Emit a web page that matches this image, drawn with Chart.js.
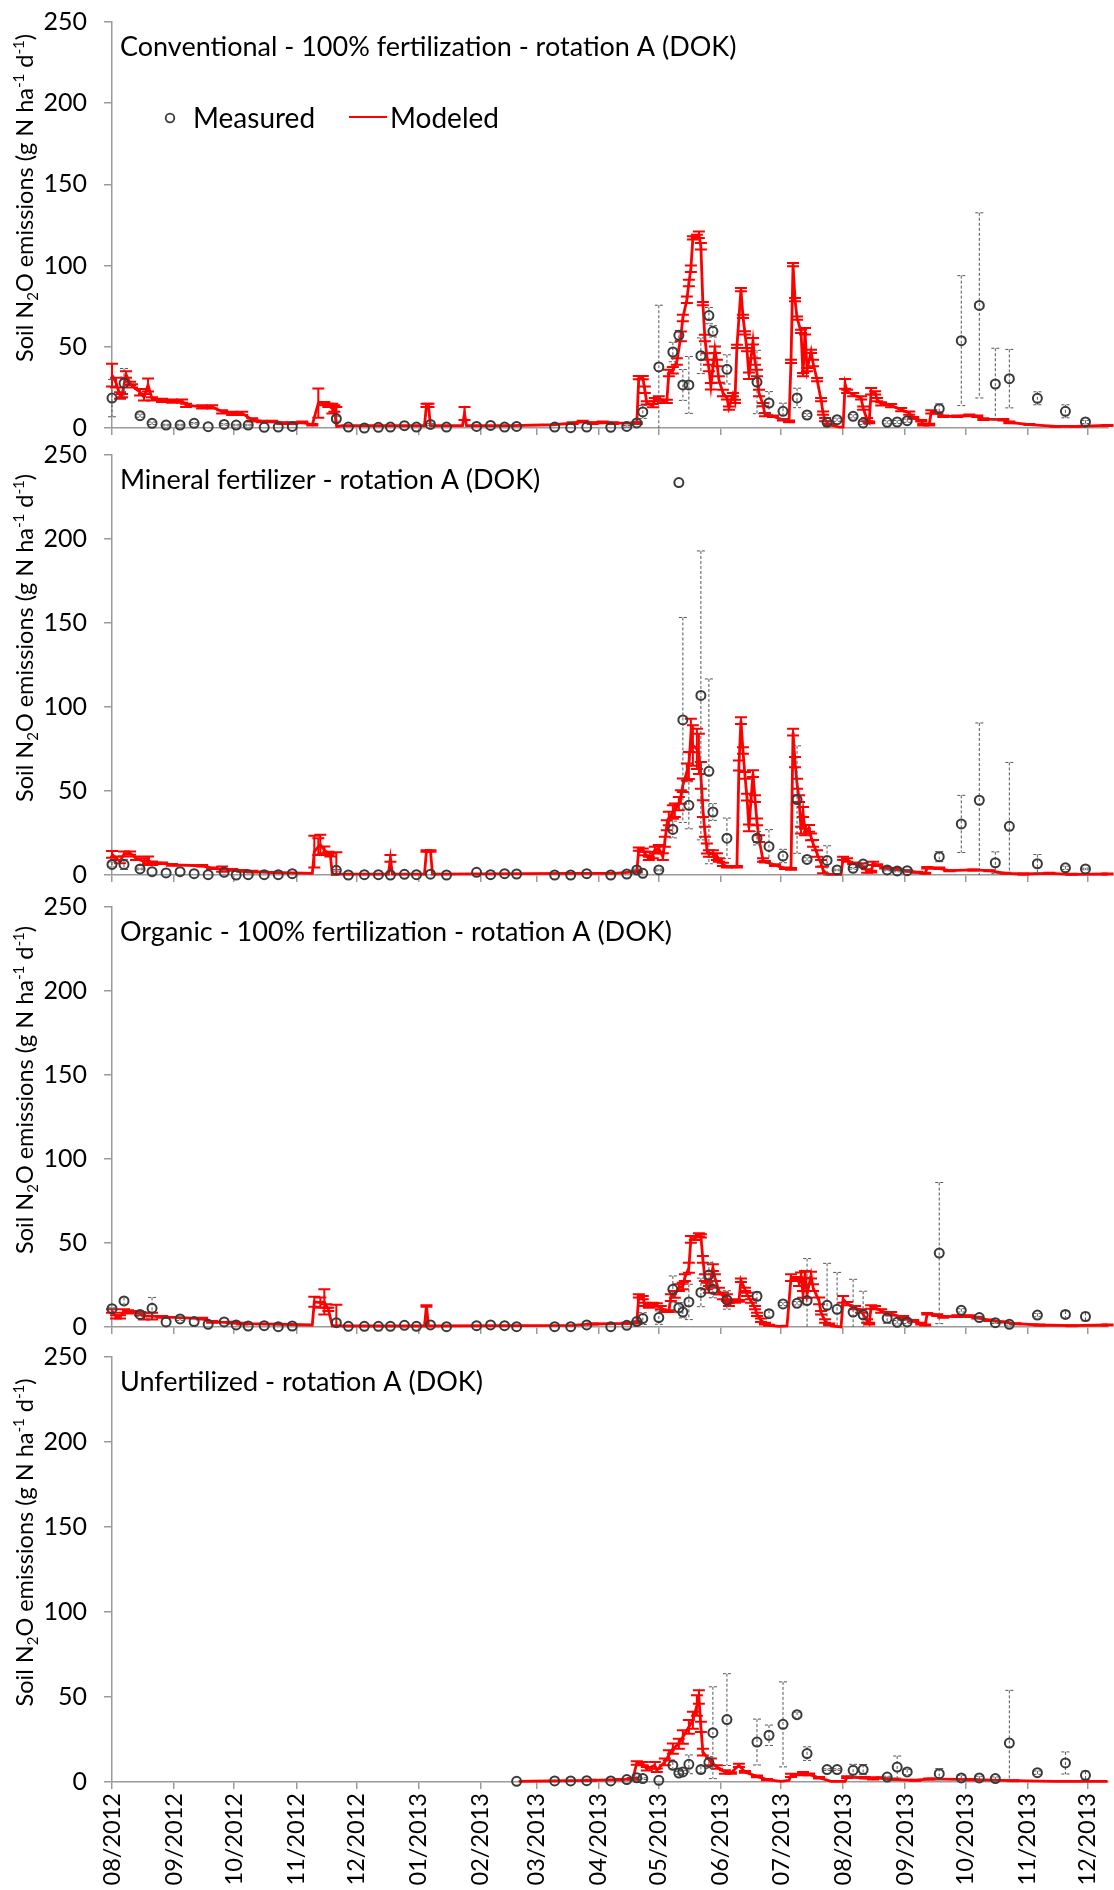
<!DOCTYPE html>
<html>
<head>
<meta charset="utf-8">
<title>Soil N2O emissions - rotation A (DOK)</title>
<script src="https://cdn.jsdelivr.net/npm/chart.js@4.4.1/dist/chart.umd.min.js"></script>
<style>
  html, body { margin: 0; padding: 0; background: #fff; }
  #wrap { position: relative; width: 1114px; height: 1890px; overflow: hidden; }
  #wrap canvas { position: absolute; left: 0; }
</style>
</head>
<body>
<div id="wrap">
  <canvas id="c1"></canvas>
  <canvas id="c2"></canvas>
  <canvas id="c3"></canvas>
  <canvas id="c4"></canvas>
</div>
<script>
// days counted from 01/08/2012
const monthTicks = [0, 31, 61, 92, 122, 153, 184, 212, 243, 273, 304, 334, 365, 396, 426, 457, 487];
const monthLabels = ['08/2012', '09/2012', '10/2012', '11/2012', '12/2012', '01/2013', '02/2013', '03/2013',
  '04/2013', '05/2013', '06/2013', '07/2013', '08/2013', '09/2013', '10/2013', '11/2013', '12/2013'];

const panelTitles = [
  'Conventional - 100% fertilization - rotation A (DOK)',
  'Mineral fertilizer - rotation A (DOK)',
  'Organic - 100% fertilization - rotation A (DOK)',
  'Unfertilized - rotation A (DOK)'
];

// chamber sampling days (shared by all four treatments)
const sampleDays = [0, 6, 14, 20, 27, 34, 41, 48, 56, 62, 68, 76, 83, 90, 112, 118, 126, 133, 139, 146, 152, 159, 167, 182, 189, 196, 202, 221, 229, 237, 249,
  257, 262, 265, 273, 280, 283, 285, 288, 294, 298, 300, 307, 322, 328, 335, 342, 347, 357, 362, 370, 375, 387, 392, 397, 413, 424, 433, 441, 448, 462, 476, 486];

// measured fluxes and standard deviations
const meas1 = [18.4, 27.6, 7.6, 2.9, 1.8, 1.8, 2.9, 0.8, 2.2, 1.8, 1.8, 0.4, 0.6, 1.0, 5.7, 0.6, 0, 0.4, 0.6, 1.4, 0.6, 2.2, 0.6, 1.0, 1.6, 0.6, 1.0, 0.6, 0.2, 0.6, 0.4,
  1.0, 3.1, 9.9, 37.6, 46.8, 57.1, 26.5, 26.5, 44.5, 69.2, 59.5, 36.1, 28.3, 15.4, 10.3, 18.5, 8.0, 3.5, 5.1, 7.2, 3.1, 3.5, 3.7, 4.5, 11.9, 53.8, 75.5, 27.1, 30.4, 18.3, 10.3, 3.7];
const measSd1 = [11.5, 9, 1, 0.8, 0.5, 0.5, 0.5, 0, 0.5, 0.5, 0.5, 0, 0, 0, 1.5, 0, 0, 0, 0, 0, 0, 0.5, 0, 0, 0, 0, 0, 0, 0, 0, 0,
  0.5, 1, 4, 38, 6, 3, 9.5, 17.5, 11, 5, 3.5, 9, 19.5, 7, 5, 6, 1, 1, 1, 1, 1, 1, 1, 1, 3, 40, 57, 22, 18, 4, 4, 1];

const meas2 = [6.3, 6.3, 3.6, 2, 1.2, 2, 0.8, 0.2, 1.6, 0, 0.2, 0.2, 0.2, 0.8, 2.8, 0, 0.2, 0.2, 0, 0.4, 0.2, 0.5, 0, 1.6, 0.2, 0.8, 0.6, 0, 0, 0.8, 0,
  0.6, 3.0, 1.0, 3.0, 27.1, 233.6, 92.3, 41.5, 106.9, 61.7, 37.5, 21.9, 21.9, 17, 11.3, 44.9, 9.3, 8.7, 3.0, 4.0, 6.5, 3.0, 2.4, 2.6, 10.9, 30.4, 44.5, 7.3, 29, 6.7, 4.3, 3.6];
const measSd2 = [1.5, 3, 0.5, 0, 0, 0, 0, 0, 0, 0, 0, 0, 0, 0, 0.5, 0, 0, 0, 0, 0, 0, 0, 0, 0, 0, 0, 0, 0, 0, 0, 0,
  0, 0.5, 0, 0.5, 5, 0, 61, 14, 86, 55, 5, 12, 4, 10, 4, 32, 1, 8.7, 0.5, 0.5, 1, 0.5, 0.5, 0.5, 3, 17, 46, 6.5, 38, 5.5, 1, 0.5];

const meas3 = [10.9, 15.5, 7.5, 11.1, 3.0, 4.8, 3.2, 1.6, 3.0, 1.2, 0.6, 0.8, 0.2, 0.6, 2.6, 0.4, 0.4, 0.4, 0.4, 1.0, 0.4, 1.2, 0.2, 0.8, 1.2, 0.8, 0.2, 0.2, 0.2, 1.2, 0.2,
  1.0, 3.2, 5.0, 5.6, 22.4, 11.5, 8.9, 14.9, 20.6, 31, 22.4, 16.1, 18.3, 7.9, 13.7, 14.1, 15.7, 12.9, 10.5, 8.9, 7.3, 5.2, 2.8, 3.0, 44, 9.9, 5.6, 2.6, 1.6, 7.1, 7.5, 6.2];
const measSd3 = [0.5, 2, 1, 6.5, 0, 1, 0, 0, 0, 0, 0, 0, 0, 0, 0, 0, 0, 0, 0, 0, 0, 0, 0, 0, 0, 0, 0, 0, 0, 0, 0,
  0, 0.5, 3.5, 4, 8, 3, 3.5, 10.5, 8.5, 7.5, 5, 5.5, 2.5, 2, 1, 1, 25, 25, 22, 19.5, 14, 3, 1, 1, 42, 1, 0.5, 0.5, 0.5, 1, 2, 2.5];

// unfertilized plots were only sampled from 02/2013
const meas4 = [null, null, null, null, null, null, null, null, null, null, null, null, null, null, null, null, null, null, null, null, null, null, null, null, null, null, 0.4, 0.6, 0.6, 0.8, 0.6,
  1.4, 2.5, 2.0, 1.0, 9.8, 5.3, 5.9, 10.4, 7.3, 11.4, 29, 36.7, 23.5, 27.5, 33.9, 39.6, 16.7, 7.3, 7.3, 6.9, 7.3, 2.9, 8.8, 5.9, 4.9, 2.4, 2.4, 2.0, 22.9, 5.5, 11.2, 3.9];
const measSd4 = [0, 0, 0, 0, 0, 0, 0, 0, 0, 0, 0, 0, 0, 0, 0, 0, 0, 0, 0, 0, 0, 0, 0, 0, 0, 0, 0, 0, 0, 0, 0,
  0, 1, 0.5, 0, 2, 1, 1, 5.5, 2, 3.5, 27, 27, 13.5, 6, 25, 1.5, 4, 0.5, 0.5, 3.5, 3, 0.5, 6.5, 1.5, 3, 1.5, 1, 1, 31, 1, 6.5, 2.5];

// modeled daily fluxes (day, value, sd)
const modDay1 = [0, 2, 4, 5, 7, 9, 10, 14, 16, 18, 20, 25, 30, 35, 37, 45, 50, 55, 60, 65, 70, 75, 80, 85, 90, 95, 100, 103, 106, 108, 110, 111, 112, 113, 115, 130, 150, 156, 157, 158, 159, 175, 176, 177, 200, 220, 230, 235, 240, 245, 250,
  262, 263, 265, 266, 267, 270, 271, 273, 275, 277, 278, 280, 282, 284, 285, 287, 288, 289, 290, 292, 293, 294, 295, 296, 297, 298, 299, 301, 302, 303, 305, 307, 308, 310, 311, 312, 314, 315, 316, 317, 318, 320, 321, 322, 323, 325, 326, 330, 335, 338,
  339, 340, 341, 342, 344, 345, 346, 347, 349, 350, 352, 354, 355, 356, 358, 363, 365, 366, 367, 370, 374, 375, 377, 378, 379, 381, 382, 384, 389, 394, 398, 400, 404, 405, 408, 409, 412, 415, 422, 428, 432, 435, 445, 448, 458, 471, 481, 497];
const modVal1 = [32.6, 28, 20, 20, 33, 27.5, 26, 22, 19, 26.5, 18, 17, 16.5, 16.5, 14, 13, 13, 10, 9, 9, 5, 4, 4, 3, 3, 3.5, 2, 15.3, 15, 14, 12, 12, 2, 1, 1.5, 1.5, 1.5, 1.5, 14, 14, 1.5, 1.5, 9, 1.5, 1.5, 2, 3, 4, 3, 3.5, 3,
  3, 31, 31, 23.6, 15.4, 13.8, 17.4, 18.5, 16.4, 16.4, 33.9, 35.5, 41, 56.4, 67.7, 79, 89.3, 98, 117, 118, 119, 111.9, 76.6, 55.4, 44.1, 36.9, 25.7, 48.2, 40, 29.8, 21.6, 18.5, 12.3, 20.5, 16.4, 50.3, 85.2, 68.8, 58.5, 48.2, 32.2, 53.4, 41, 33.9, 21.6, 14.4, 8.2, 7.2, 5.1, 4.1,
  41, 100.6, 79, 67.7, 59.5, 32.8, 59.5, 35.9, 47.2, 40, 29.8, 17.4, 9.2, 5.1, 2.1, 0.6, 0.6, 27.1, 22.6, 20.5, 18.5, 12.3, 5.1, 3.5, 22.6, 21.6, 17.4, 14.8, 13.8, 11.3, 9.2, 6.2, 4.5, 2.1, 2.1, 9.9, 9.2, 7.2, 7.2, 7.8, 7.2, 5.5, 5.1, 3.5, 2.1, 1.0, 1.0, 1.6];
const modSd1 = [7, 3, 2, 1, 2, 1, 1, 2, 2, 4, 1, 1, 1, 1, 1, 1, 1, 1, 1, 1, 1, 0.5, 0.5, 0.5, 0.5, 0.5, 0.5, 9, 1, 1, 3, 2, 11, 0, 0, 0, 0, 0, 1, 1, 0, 0, 4, 0, 0, 0, 0.5, 0.5, 0.5, 0.5, 0.5,
  0.5, 1, 1, 2, 1, 1, 1, 1, 1, 1, 2, 2, 2, 3, 2, 2, 2, 2, 1, 1, 2, 2, 1, 2, 2, 2, 2, 2, 2, 2, 2, 1, 1, 1, 1, 1, 1, 1, 1, 1, 2, 2, 2, 2, 2, 1, 1, 0.5, 0.5, 0.5,
  1, 1, 1, 1, 1, 1, 2, 1, 1, 2, 1, 1, 1, 1, 0.5, 0, 0, 3, 1, 1, 1, 1, 1, 0.5, 2, 1, 1, 1, 1, 1, 1, 0.5, 0.5, 0.5, 0.5, 1, 0.5, 0.5, 0.5, 0.5, 0.5, 0.5, 0.5, 0.5, 0.3, 0.3, 0.3, 0.3];

const modDay2 = [0, 2, 4, 6, 9, 12, 16, 18, 20, 25, 30, 45, 50, 55, 60, 65, 70, 80, 100, 101, 103, 104, 106, 108, 109, 110, 112, 115, 138, 139, 140, 156, 157, 159, 160, 230, 251,
  262, 263, 265, 266, 268, 270, 271, 273, 275, 276, 277, 278, 280, 281, 283, 284, 285, 287, 288, 289, 290, 292, 293, 294, 295, 296, 297, 298, 300, 302, 303, 305, 307, 312,
  313, 314, 315, 316, 317, 318, 320, 321, 322, 323, 325, 326, 331, 336, 339, 340, 341, 342, 343, 344, 345, 346, 348, 349, 350, 352, 354, 355, 357, 364,
  365, 367, 370, 374, 377, 379, 380, 382, 386, 391, 397, 402, 406, 407, 413, 418, 430, 438, 446, 455, 468, 479, 497];
const modVal2 = [12.3, 10, 8, 12.5, 13, 10, 8, 9, 7, 7, 6, 5.5, 4, 3.5, 3, 2.5, 2, 1.5, 1, 13.9, 16.9, 18, 14.9, 12.9, 12, 0.3, 0.5, 0.5, 0.5, 9.9, 0.5, 0.5, 14.3, 14.3, 0.5, 1, 1.0,
  2.0, 15.4, 14.8, 12.8, 9.9, 11.9, 14.8, 15.8, 10.9, 19.8, 29.6, 33.6, 37.5, 38.5, 42.5, 46.4, 53.4, 61.3, 65.2, 83, 77.1, 75.1, 72.1, 59.3, 39.5, 25.7, 15.8, 12.8, 12.8, 10.9, 8.9, 6.3, 4.9, 4.9,
  65.2, 91.9, 74.1, 59.3, 46.4, 28.1, 60.3, 45.5, 31.6, 21.7, 8.9, 7.9, 5.9, 4.0, 3.6, 85, 67.2, 54.3, 45.5, 26.7, 37.5, 25.7, 27.7, 22.7, 18.8, 12.8, 6.9, 3.0, 0.4, 0.4,
  9.9, 8.9, 6.9, 5.9, 2.4, 2.0, 6.9, 5.9, 4.3, 3.6, 2.4, 1.6, 1.0, 4.3, 4.0, 2.6, 3.0, 2.6, 1.0, 0.6, 1.0, 0.4, 0.6];
const modSd2 = [2, 1, 1, 1.5, 1, 1, 2, 2, 1, 0.5, 0.5, 0.5, 0.5, 1.5, 0.5, 0.5, 0.5, 0, 0, 9.5, 5, 6, 2, 1, 1, 0, 13, 0, 0, 2, 0, 0, 0.5, 0.5, 0, 0, 0,
  0.5, 1, 1, 1, 1, 2, 2, 2, 2, 3, 3, 4, 4, 4, 4, 4, 4, 5, 8, 10, 12, 12, 12, 8, 5, 3, 3, 2, 2, 2, 1, 1, 0.5, 0.5,
  3, 2, 2, 2, 2, 2, 2, 2, 2, 2, 1, 0.5, 0.5, 0.5, 0.5, 2, 3, 3, 2, 2, 3, 2, 2, 2, 2, 2, 2, 2, 0, 0,
  1, 1, 0.5, 1, 1, 0.5, 1, 0.5, 0.5, 0.5, 0.5, 0.3, 0.3, 0.5, 0.5, 0.3, 0.3, 0.3, 0.3, 0.3, 0.3, 0.3, 0.3];

const modDay3 = [0, 2, 4, 6, 8, 12, 14, 16, 20, 25, 45, 50, 60, 65, 90, 100, 101, 104, 106, 107, 108, 110, 112, 115, 156, 157, 158, 230, 240, 257,
  262, 263, 265, 266, 268, 270, 272, 274, 276, 278, 279, 281, 283, 285, 286, 288, 289, 291, 293, 294, 295, 296, 297, 298, 300, 301, 303, 305, 307, 308, 311, 313,
  314, 316, 317, 319, 321, 322, 324, 326, 328, 333, 337, 339, 342, 343, 344, 345, 346, 347, 349, 350, 353, 354, 356, 358, 359, 364,
  365, 367, 371, 374, 377, 378, 379, 381, 384, 389, 395, 400, 404, 406, 407, 412, 415, 422, 428, 432, 438, 445, 451, 463, 479, 497];
const modVal3 = [9.5, 6, 6, 9.5, 9, 9, 8, 6.5, 6.5, 6, 5, 3, 2.6, 2, 1.5, 1.2, 15, 14.5, 15, 12.5, 10.5, 0.6, 0.8, 0.6, 0.6, 12.5, 0.6, 1, 1.8, 2.2,
  2.6, 18.5, 17.5, 13.5, 12.5, 13.5, 13.1, 11.5, 9.5, 9.5, 17.5, 19.4, 23.4, 24.4, 29.4, 35.3, 52.2, 52.8, 54.8, 54.2, 40.3, 29.4, 24.4, 22.4, 35.3, 29.4, 21.4, 18.5, 17.5, 13.5, 15.5, 15.5,
  27.8, 22.4, 19.4, 15.5, 11.5, 7.5, 4.0, 2.0, 1.0, 0.4, 0.6, 29.4, 28.8, 26.4, 30.4, 19.4, 31.3, 19.4, 30.9, 23.4, 15.5, 8.5, 3.6, 1.6, 0.6, 0,
  16.5, 13.9, 11.5, 9.5, 3.6, 2.0, 11.9, 11.5, 9.5, 7.9, 5.6, 3.6, 2.0, 1.2, 7.9, 7.1, 6.0, 6.5, 6.5, 5.6, 4.0, 3.0, 2.0, 1.2, 0.8, 1.2];
const modSd3 = [1, 1, 1, 1, 1, 0.5, 1, 2, 2, 0.5, 0.5, 0.5, 0.5, 0.5, 0, 0, 3, 3, 7.5, 1, 1, 0, 12.5, 0, 0, 0.5, 0, 0, 0.3, 0.3,
  0.5, 1, 1, 1, 1, 1, 1, 1, 0.5, 0.5, 2, 2, 2, 2, 2, 3, 2, 1, 1, 1, 2, 2, 2, 2, 2, 2, 2, 2, 2, 1, 1, 0.5,
  1, 1, 1, 1, 1, 1, 1, 0.5, 0.3, 0, 0, 2, 1, 2, 2, 2, 2, 2, 2, 2, 2, 1, 1, 0.5, 0, 0,
  2, 1, 1, 1, 1, 0.5, 1, 1, 1, 1, 1, 0.5, 0.5, 0.3, 0.5, 0.5, 0.5, 0.5, 0.5, 0.5, 0.5, 0.3, 0.3, 0.3, 0.3, 0.3];

const modDay4 = [203, 218, 239, 253, 260, 262, 265, 267, 271, 272, 276, 278, 280, 283, 285, 288, 290, 292, 293, 294, 295, 299, 302, 306, 309, 313, 316, 322, 327, 334, 338,
  339, 345, 348, 353, 359, 366, 367, 376, 380, 382, 390, 401, 408, 429, 450, 471, 497];
const modVal4 = [0.4, 0.6, 1.0, 1.4, 1.8, 11.2, 10.8, 7.8, 9.8, 6.9, 11.8, 15.7, 19.6, 22.5, 26.5, 32.4, 36.3, 45, 50, 32.4, 17.6, 11.8, 8.8, 5.9, 5.3, 9.8, 5.9, 3.3, 1.4, 0.4, 1.0,
  3.9, 4.9, 4.5, 2.5, 0.4, 0.4, 2.9, 2.5, 1.8, 2.5, 1.6, 1.0, 1.8, 1.4, 0.8, 0.4, 0.4];
const modSd4 = [0, 0, 0.3, 0.3, 0.5, 1, 1, 1, 2, 1, 2, 3, 3, 3, 4, 4, 5, 6, 4, 3, 2, 2, 1, 1, 0.5, 1, 0.5, 0.5, 0.3, 0, 0,
  1, 1, 0.5, 0.5, 0, 0, 0.5, 0.5, 0.3, 0.3, 0.3, 0.3, 0.3, 0.3, 0.3, 0, 0];

const yTitleParts = [['Soil N', ''], ['2', 'sub'], ['O emissions (g N ha', ''], ['-1', 'sup'], [' d', ''], ['-1', 'sup'], [')', '']];

const FONT = 'Lato, "Open Sans", sans-serif';
const AXIS = '#9a9a9a';
const X_MAX = 497;

const panels = [
  { id: 'c1', top: 0, plotTop: 22, plotBottom: 428, meas: meas1, measSd: measSd1, day: modDay1, val: modVal1, sd: modSd1, legend: true },
  { id: 'c2', top: 440, plotTop: 455, plotBottom: 875, meas: meas2, measSd: measSd2, day: modDay2, val: modVal2, sd: modSd2 },
  { id: 'c3', top: 892, plotTop: 907, plotBottom: 1327, meas: meas3, measSd: measSd3, day: modDay3, val: modVal3, sd: modSd3 },
  { id: 'c4', top: 1342, plotTop: 1357, plotBottom: 1782, meas: meas4, measSd: measSd4, day: modDay4, val: modVal4, sd: modSd4, dates: true }
];

function drawErrorBars(chart, ds) {
  const { ctx, chartArea: a, scales: { x, y } } = chart;
  const st = ds.errStyle;
  ctx.save();
  ctx.strokeStyle = st.color;
  ctx.lineWidth = st.width;
  ctx.setLineDash(st.dash);
  ds.data.forEach(pt => {
    if (!pt.e) return;
    const px = x.getPixelForValue(pt.x);
    let top = y.getPixelForValue(pt.y + pt.e);
    let bot = y.getPixelForValue(pt.y - pt.e);
    const capTop = top >= a.top, capBot = bot <= a.bottom;
    top = Math.max(top, a.top);
    bot = Math.min(bot, a.bottom);
    ctx.beginPath();
    ctx.moveTo(px, top);
    ctx.lineTo(px, bot);
    if (capTop) { ctx.moveTo(px - st.cap, top); ctx.lineTo(px + st.cap, top); }
    if (capBot) { ctx.moveTo(px - st.cap, bot); ctx.lineTo(px + st.cap, bot); }
    ctx.stroke();
  });
  ctx.restore();
}

// measured bars go under the circles, modeled bars over the red line
const errorBars = {
  id: 'errorBars',
  beforeDatasetDraw(chart, args) {
    const ds = chart.data.datasets[args.index];
    if (ds.errStyle && ds.errStyle.under) drawErrorBars(chart, ds);
  },
  afterDatasetDraw(chart, args) {
    const ds = chart.data.datasets[args.index];
    if (ds.errStyle && !ds.errStyle.under) drawErrorBars(chart, ds);
  }
};

function drawYTitle(ctx, cx, cy) {
  const base = 23.5, small = 15;
  const fontOf = pos => `${pos ? small : base}px ${FONT}`;
  let total = 0;
  yTitleParts.forEach(([t, pos]) => { ctx.font = fontOf(pos); total += ctx.measureText(t).width; });
  ctx.save();
  ctx.translate(cx, cy);
  ctx.rotate(-Math.PI / 2);
  ctx.textBaseline = 'alphabetic';
  let x = -total / 2;
  yTitleParts.forEach(([t, pos]) => {
    ctx.font = fontOf(pos);
    const dy = pos === 'sub' ? 13 : pos === 'sup' ? -1 : 8;
    ctx.fillText(t, x, dy);
    x += ctx.measureText(t).width;
  });
  ctx.restore();
}

const panelText = {
  id: 'panelText',
  afterDraw(chart, args, opts) {
    const { ctx, chartArea: a } = chart;
    ctx.save();
    ctx.fillStyle = '#000';
    ctx.textBaseline = 'alphabetic';
    ctx.font = `27px ${FONT}`;
    ctx.fillText(opts.title, a.left + 8, a.top + 34);
    drawYTitle(ctx, 25, (a.top + a.bottom) / 2 - 27);

    if (opts.legend) {
      const ly = a.top + 96;
      ctx.font = `28px ${FONT}`;
      ctx.strokeStyle = '#3a3a3a';
      ctx.lineWidth = 1.8;
      ctx.beginPath();
      ctx.arc(a.left + 58, ly, 4.3, 0, Math.PI * 2);
      ctx.stroke();
      ctx.fillText('Measured', a.left + 81, ly + 10);
      ctx.strokeStyle = '#ff0000';
      ctx.lineWidth = 2;
      ctx.beginPath();
      ctx.moveTo(a.left + 237, ly - 1);
      ctx.lineTo(a.left + 275, ly - 1);
      ctx.stroke();
      ctx.fillText('Modeled', a.left + 278, ly + 10);
    }
    ctx.restore();
  }
};

panels.forEach((p, n) => {
  const canvas = document.getElementById(p.id);
  const axisH = p.dates ? 1890 - p.plotBottom : 10;
  canvas.width = 1114;
  canvas.height = p.plotBottom - p.top + axisH;
  canvas.style.top = p.top + 'px';

  const modeled = p.day.map((d, i) => ({ x: d, y: p.val[i], e: p.sd[i] }));
  const measured = [];
  sampleDays.forEach((d, i) => {
    if (p.meas[i] !== null) measured.push({ x: d, y: p.meas[i], e: p.measSd[i] });
  });

  new Chart(canvas, {
    type: 'line',
    data: {
      datasets: [
        {
          label: 'Measured',
          data: measured,
          showLine: false,
          pointStyle: 'circle',
          pointRadius: 4.5,
          pointBorderWidth: 2,
          borderColor: '#3a3a3a',
          backgroundColor: 'rgba(0,0,0,0)',
          clip: false,
          order: 1,
          errStyle: { color: '#555555', width: 1, dash: [3, 2], cap: 4, under: true }
        },
        {
          label: 'Modeled',
          data: modeled,
          borderColor: '#ff0000',
          borderWidth: 2.8,
          pointRadius: 0,
          tension: 0,
          clip: false,
          order: 2,
          errStyle: { color: '#ff0000', width: 2, dash: [], cap: 6, under: false }
        }
      ]
    },
    options: {
      responsive: false,
      animation: false,
      events: [],
      layout: { padding: { top: p.plotTop - p.top, left: 0, right: 0, bottom: 0 } },
      plugins: {
        legend: { display: false },
        tooltip: { enabled: false },
        panelText: { title: panelTitles[n], legend: !!p.legend }
      },
      scales: {
        x: {
          type: 'linear',
          min: 0,
          max: X_MAX,
          afterBuildTicks: s => { s.ticks = monthTicks.map(v => ({ value: v })); },
          afterFit: s => { s.height = axisH; s.paddingLeft = 0; s.paddingRight = 0; },
          ticks: {
            display: !!p.dates,
            autoSkip: false,
            minRotation: 90,
            maxRotation: 90,
            padding: 4,
            color: '#000',
            font: { family: FONT, size: 23.5 },
            callback: (v, i) => monthLabels[i]
          },
          grid: { drawOnChartArea: false, tickLength: 7, color: AXIS, lineWidth: 1.5 },
          border: { color: AXIS, width: 1.5 }
        },
        y: {
          min: 0,
          max: 250,
          afterFit: s => { s.width = 112; s.paddingTop = 0; s.paddingBottom = 0; },
          ticks: { stepSize: 50, padding: 17, color: '#000', font: { family: FONT, size: 25 } },
          grid: { drawOnChartArea: false, tickLength: 8, color: AXIS, lineWidth: 1.5 },
          border: { color: AXIS, width: 1.5 }
        }
      }
    },
    plugins: [errorBars, panelText]
  });
});
</script>
</body>
</html>
